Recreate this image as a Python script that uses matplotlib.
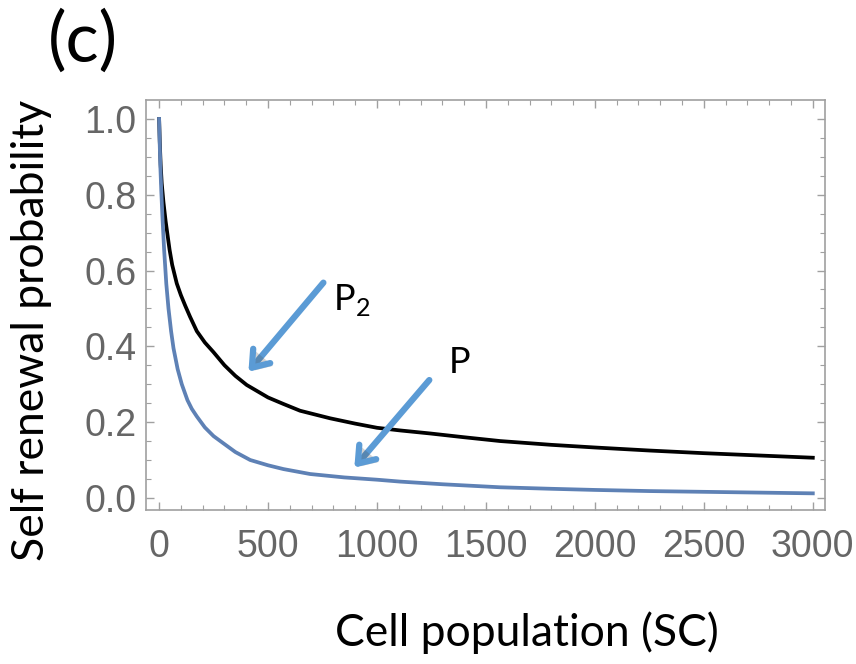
import matplotlib.pyplot as plt
import matplotlib.patheffects as pe
import numpy as np

# valores
x_p2 = [0, 3, 7, 12, 20, 30, 48, 60, 81, 100, 120, 142, 173, 210, 249, 300,
        350, 402, 500, 570, 647, 785, 900, 1000, 1106, 1244, 1400, 1565, 1800,
        2000, 2250, 2500, 2750, 3000]
p2 = [1.0, 0.94, 0.88, 0.83, 0.78, 0.73, 0.655, 0.615, 0.566, 0.535, 0.507,
      0.478, 0.44, 0.41, 0.385, 0.35, 0.322, 0.298, 0.265, 0.248, 0.23, 0.21,
      0.196, 0.185, 0.178, 0.17, 0.16, 0.15, 0.14, 0.133, 0.125, 0.118, 0.112,
      0.106]

x_p = [0, 3, 6, 10, 15, 23, 33, 43, 55, 66, 85, 104, 130, 150, 173, 210, 250,
       295, 350, 418, 500, 571, 693, 850, 1000, 1106, 1300, 1565, 1800, 2000,
       2250, 2500, 2750, 3000]
p = [1.0, 0.93, 0.87, 0.81, 0.745, 0.655, 0.565, 0.50, 0.44, 0.395, 0.34,
     0.30, 0.258, 0.235, 0.215, 0.186, 0.163, 0.144, 0.121, 0.100, 0.086,
     0.076, 0.063, 0.054, 0.048, 0.043, 0.036, 0.028, 0.024, 0.021, 0.018,
     0.016, 0.014, 0.012]

# flechas (inicio, punta) en coordenadas de datos
flechas = [((754, 0.568), (410, 0.333)),
           ((1240, 0.311), (896, 0.080))]

gris = "#666666"
azul_flecha = "#5b9bd5"
azul_curva = "#5e81b5"

fig = plt.figure(figsize=(8.56, 6.64), dpi=100)
ax = fig.add_axes([0.1706, 0.2319, 0.7932, 0.6175])

ax.plot(x_p2, p2, color="black", lw=2.7, solid_joinstyle="round")
ax.plot(x_p, p, color=azul_curva, lw=2.7, solid_joinstyle="round")

for (x0, y0), (x1, y1) in flechas:
    ax.annotate("", xy=(x1, y1), xytext=(x0, y0),
                arrowprops=dict(arrowstyle="->,head_length=1.1,head_width=0.8",
                                lw=4.5, color=azul_flecha, shrinkA=0, shrinkB=0,
                                capstyle="round", joinstyle="round",
                                path_effects=[pe.withSimplePatchShadow(offset=(2, -2), alpha=0.25)]))

ax.text(800, 0.495, r"P$_{\mathregular{2}}$", fontsize=26, family="Lato",
        ha="left", va="baseline")
ax.text(1330, 0.33, "P", fontsize=26, family="Lato", ha="left", va="baseline")

ax.set_xlim(-60, 3056)
ax.set_ylim(-0.032, 1.05)
ax.set_xticks(np.arange(0, 3001, 500))
ax.set_xticks(np.arange(0, 3001, 100), minor=True)
ax.set_yticks(np.arange(0, 1.01, 0.2))
ax.set_yticks(np.arange(0, 1.01, 0.05), minor=True)
ax.set_yticklabels(["0.0", "0.2", "0.4", "0.6", "0.8", "1.0"])

for s in ax.spines.values():
    s.set_color("#a0a0a0")
    s.set_linewidth(1.2)
ax.tick_params(which="both", direction="in", top=True, right=True, color="#a0a0a0",
               labelcolor=gris, labelsize=27)
ax.tick_params(which="major", length=6, width=1.0)
ax.tick_params(which="minor", length=3.5, width=0.8)
ax.tick_params(axis="x", which="major", pad=14)
ax.tick_params(axis="y", which="major", pad=7)
for lab in ax.get_xticklabels() + ax.get_yticklabels():
    lab.set_family("Liberation Sans")

fig.text(527 / 856, 1 - 633 / 664, "Cell population (SC)", fontsize=32,
         family="Lato", ha="center", va="center")
fig.text(32 / 856, 1 - 330 / 664, "Self renewal probability", fontsize=32,
         family="Lato", ha="center", va="center", rotation=90)

fig.text(48 / 856, 1 - 41 / 664, "(c)", fontsize=50, family="Lato",
         va="center", ha="left")

fig.savefig("out.png", dpi=100)
